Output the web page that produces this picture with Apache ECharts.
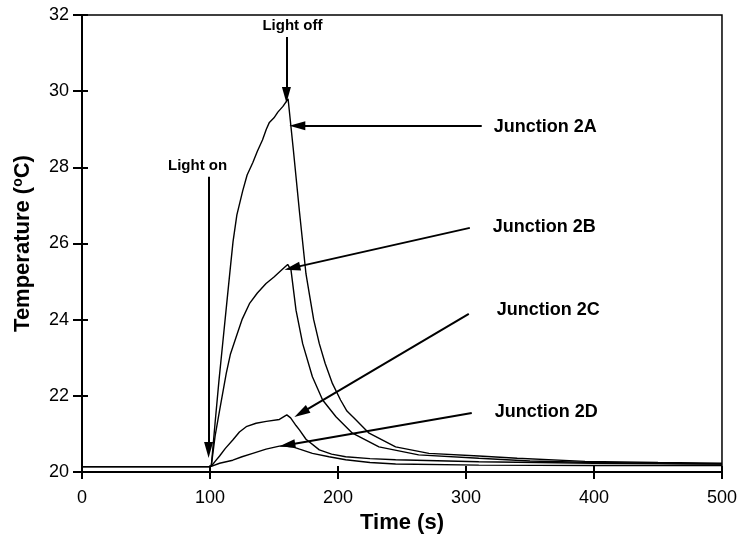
<!DOCTYPE html>
<html>
<head>
<meta charset="utf-8">
<script src="https://cdn.jsdelivr.net/npm/echarts@6/dist/echarts.min.js"></script>
<style>
  html, body { margin: 0; padding: 0; background: #fff; }
  #chart { width: 740px; height: 543px; }
</style>
</head>
<body>
<div id="chart"></div>
<script>
// values
const timeA = [0, 50, 99, 101, 104, 107, 110, 113, 116, 118, 121, 125.6, 129, 133.4, 137, 141, 144, 146.4, 150, 153, 157, 161, 165, 170, 175, 177.6, 181, 185.4, 190, 195.7, 202, 207, 213.9, 224.3, 245, 271, 310, 340, 393, 450, 500]
const tempA = [20.14, 20.14, 20.14, 20.15, 21.3, 22.4, 23.4, 24.4, 25.4, 26.05, 26.75, 27.39, 27.8, 28.12, 28.42, 28.72, 29.0, 29.18, 29.3, 29.45, 29.6, 29.8, 28.5, 26.8, 25.2, 24.68, 24.0, 23.37, 22.85, 22.32, 21.89, 21.6, 21.37, 21.02, 20.66, 20.49, 20.42, 20.36, 20.28, 20.25, 20.23]

const timeB = [0, 99, 101, 104, 107.5, 112.7, 116, 120.5, 125, 130.8, 137, 143.8, 150, 155.5, 160.7, 163.3, 167.2, 172.4, 180, 188, 198.4, 211.3, 232, 263, 310, 350, 400, 450, 500]
const tempB = [20.14, 20.14, 20.16, 20.95, 21.62, 22.59, 23.1, 23.55, 24.0, 24.42, 24.7, 24.95, 25.12, 25.29, 25.45, 25.3, 24.25, 23.37, 22.5, 21.89, 21.45, 21.02, 20.66, 20.45, 20.36, 20.29, 20.25, 20.23, 20.21]

const timeC = [0, 99, 101, 104, 107.5, 112, 117.8, 123, 128.3, 136, 144, 154.2, 160, 163, 167.2, 170, 175, 185.4, 195, 206, 225, 245, 310, 400, 500]
const tempC = [20.14, 20.14, 20.15, 20.28, 20.42, 20.62, 20.84, 21.05, 21.19, 21.28, 21.33, 21.38, 21.5, 21.42, 21.22, 21.1, 20.86, 20.58, 20.47, 20.4, 20.35, 20.32, 20.27, 20.23, 20.21]

const timeD = [0, 99, 101, 107.5, 117.8, 125, 133.4, 143.8, 154.2, 158, 162, 164.6, 170, 180, 193, 206, 225, 245, 310, 400, 500]
const tempD = [20.14, 20.14, 20.15, 20.23, 20.31, 20.4, 20.49, 20.6, 20.68, 20.69, 20.67, 20.66, 20.6, 20.49, 20.4, 20.32, 20.25, 20.21, 20.18, 20.17, 20.17]

const xTicks = [0, 100, 200, 300, 400, 500]
const yTicks = [20, 22, 24, 26, 28, 30, 32]

// annotations, in data units
const noteText = ['Light off', 'Light on', 'Junction 2A', 'Junction 2B', 'Junction 2C', 'Junction 2D']
const notePos = [[164.4, 31.71], [90.3, 28.04], [321.6, 29.06], [320.9, 26.43], [324, 24.25], [322.4, 21.58]]
const arrowStart = [[159.7, 31.42], [98.9, 27.75], [312.3, 29.09], [303, 26.41], [302.2, 24.15], [304.5, 21.55]]
const arrowEnd = [[159.7, 29.9], [98.9, 20.58], [168.2, 29.09], [164.3, 25.36], [171.3, 21.55], [160.4, 20.71]]

const font = 'Arial, "Liberation Sans", sans-serif'
const zip = (xs, ys) => xs.map((x, i) => [x, ys[i]])

const curve = (name, xs, ys) => ({
  name: name,
  type: 'line',
  data: zip(xs, ys),
  showSymbol: false,
  silent: true,
  lineStyle: { color: '#000', width: 1.4 },
  z: 3
})

const chart = echarts.init(document.getElementById('chart'))

const baseX = {
  type: 'value',
  min: 0,
  max: 500,
  interval: 100,
  position: 'bottom',
  splitLine: { show: false }
}
const baseY = {
  type: 'value',
  min: 20,
  max: 32,
  interval: 2,
  position: 'left',
  splitLine: { show: false }
}

const option = {
  backgroundColor: '#fff',
  animation: false,
  grid: {
    left: 82, right: 15, top: 15, bottom: 71,
    show: true,
    borderColor: '#000',
    borderWidth: 1.5,
    backgroundColor: 'transparent'
  },
  xAxis: [
    Object.assign({}, baseX, {
      name: 'Time (s)',
      nameLocation: 'middle',
      nameGap: 36,
      nameTextStyle: { fontFamily: font, fontSize: 22, fontWeight: 'bold', color: '#000' },
      axisLine: { lineStyle: { color: '#000', width: 2 } },
      axisTick: { show: true, length: 7, lineStyle: { color: '#000', width: 2 } },
      axisLabel: {
        margin: 17, color: '#000', fontFamily: font, fontSize: 18,
        customValues: xTicks
      }
    }),
    Object.assign({}, baseX, {
      axisLine: { show: false },
      axisTick: { show: true, inside: true, length: 6, lineStyle: { color: '#000', width: 2 } },
      axisLabel: { show: false }
    })
  ],
  yAxis: [
    Object.assign({}, baseY, {
      name: 'Temperature ({sup|o}C)',
      nameLocation: 'middle',
      nameGap: 48,
      nameTextStyle: {
        fontFamily: font, fontSize: 22, fontWeight: 'bold', color: '#000',
        rich: {
          sup: { fontFamily: font, fontSize: 14, fontWeight: 'bold', color: '#000', padding: [0, 0, 9, 0] }
        }
      },
      axisLine: { lineStyle: { color: '#000', width: 2 } },
      axisTick: { show: true, length: 9, lineStyle: { color: '#000', width: 2 } },
      axisLabel: {
        margin: 13, color: '#000', fontFamily: font, fontSize: 18,
        customValues: yTicks
      }
    }),
    Object.assign({}, baseY, {
      axisLine: { show: false },
      axisTick: { show: true, inside: true, length: 6, lineStyle: { color: '#000', width: 2 } },
      axisLabel: { show: false }
    })
  ],
  series: [
    curve('Junction 2A', timeA, tempA),
    curve('Junction 2B', timeB, tempB),
    curve('Junction 2C', timeC, tempC),
    curve('Junction 2D', timeD, tempD),
    {
      name: 'notes',
      type: 'scatter',
      symbolSize: 0,
      silent: true,
      z: 5,
      itemStyle: { color: '#000', opacity: 1 },
      data: noteText.map((t, i) => ({
        name: t,
        value: notePos[i],
        label: { align: i < 2 ? 'center' : 'left', fontSize: i < 2 ? 15 : 18 }
      })),
      label: {
        show: true,
        position: 'inside',
        formatter: '{b}',
        color: '#000',
        textBorderWidth: 0,
        fontFamily: font,
        fontWeight: 'bold',
        verticalAlign: 'middle'
      },
      markLine: {
        silent: true,
        animation: false,
        symbol: ['none', 'triangle'],
        symbolSize: [9, 16],
        label: { show: false },
        lineStyle: { color: '#000', width: 2, type: 'solid', opacity: 1 },
        itemStyle: { color: '#000', opacity: 1 },
        data: arrowStart.map((s, i) => [
          { coord: s },
          { coord: arrowEnd[i] }
        ])
      }
    }
  ]
}

chart.setOption(option)
</script>
</body>
</html>
